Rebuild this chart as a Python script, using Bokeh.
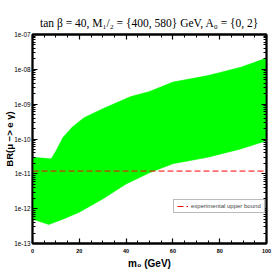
import math
from bokeh.plotting import figure
from bokeh.models import (LinearAxis, LogAxis, Range1d, Legend, LegendItem,
                          SingleIntervalTicker, LogTicker, CustomJSTickFormatter)
from bokeh.embed import file_html
from bokeh.resources import INLINE

# ---- data ----
m0_upper = [0, 8, 10, 13, 17, 22, 30, 42, 50, 60, 75, 89, 100]
br_upper = [3.0e-11, 2.7e-11, 4.5e-11, 1.1e-10, 2.2e-10, 4.1e-10, 7.4e-10,
            1.65e-9, 2.3e-9, 4.3e-9, 6.6e-9, 1.15e-8, 2.1e-8]
m0_lower = [0, 7, 13, 20, 30, 40, 50, 60, 75, 89, 100]
br_lower = [5.0e-13, 3.5e-13, 5.0e-13, 7.9e-13, 1.9e-12, 5.1e-12, 1.07e-11,
            1.95e-11, 3.0e-11, 5.2e-11, 8.9e-11]
exp_bound = 1.2e-11
x_range = (0, 100)
y_range = (1e-13, 1e-7)
legend_text = "experimental upper bound"
title_text = "tan β = 40, M₁/₂ = {400, 580} GeV, A₀ = {0, 2}"
x_label = "m₀ (GeV)"
y_label = "BR(μ −> e γ)"

# frame placement (canvas pixels)
FL, FT, FW, FH = 32, 34, 234, 209
W, H = 273, 273

p = figure(width=W, height=H, output_backend="svg", toolbar_location=None,
           x_range=Range1d(*x_range), y_range=Range1d(*y_range), y_axis_type="log",
           min_border_left=FL, min_border_right=W - FL - FW,
           min_border_top=FT, min_border_bottom=H - FT - FH)
p.title.text = title_text
p.title.text_font = "Liberation Serif"
p.title.text_font_style = "normal"
p.title.text_font_size = "11.5px"
p.title.text_color = "black"
p.title.align = "center"
p.title.standoff = 12
p.grid.visible = False
p.outline_line_color = "black"
p.outline_line_width = 1.8
p.background_fill_color = "white"
p.border_fill_color = "white"

# band
px = list(m0_upper) + list(reversed(m0_lower))
py = list(br_upper) + list(reversed(br_lower))
p.patch(px, py, fill_color="#00ff00", line_color="#00ff00", line_width=0.5)

# experimental bound
r = p.line(list(x_range), [exp_bound, exp_bound], line_color="#ff0000",
           line_dash="6 3", line_width=1)

legend = Legend(items=[LegendItem(label=legend_text, renderers=[r])],
                location=(141, 30), label_text_font_size="6px",
                label_text_font="Liberation Sans", glyph_width=11, glyph_height=6,
                label_height=6, padding=3, spacing=0, margin=0,
                border_line_color="#777777", border_line_width=1,
                label_standoff=3)
p.add_layout(legend)

# axes
fmt = CustomJSTickFormatter(code="""
const e = Math.round(Math.log10(tick));
const a = Math.abs(e);
return '1e' + (e < 0 ? '-' : '+') + (a < 10 ? '0' + a : '' + a);
""")

def style(ax, labels=True):
    ax.axis_line_width = 1.8
    ax.axis_line_color = "black"
    ax.major_tick_in = 5
    ax.major_tick_out = 0
    ax.minor_tick_in = 3
    ax.minor_tick_out = 0
    ax.major_tick_line_width = 1.2
    ax.minor_tick_line_width = 1
    ax.major_tick_line_color = "black"
    ax.minor_tick_line_color = "black"
    ax.major_label_text_color = "black"
    if not labels:
        ax.major_label_text_color = None
        ax.major_label_text_font_size = "1px"
        ax.major_label_standoff = 0

xa = p.xaxis[0]
xa.ticker = SingleIntervalTicker(interval=20, num_minor_ticks=4)
style(xa)
xa.major_label_text_font_size = "5.5px"
xa.major_label_text_font = "Liberation Sans"
xa.major_label_text_font_style = "bold"
xa.major_label_standoff = 5
xa.axis_label = x_label
xa.axis_label_text_font = "Liberation Sans"
xa.axis_label_text_font_style = "bold"
xa.axis_label_text_font_size = "10px"
xa.axis_label_text_color = "black"
xa.axis_label_standoff = 2

ya = p.yaxis[0]
ya.ticker = LogTicker(num_minor_ticks=10)
ya.formatter = fmt
style(ya)
ya.major_label_text_font_size = "6.4px"
ya.major_label_text_font = "Liberation Sans"
ya.major_label_standoff = 2
ya.axis_label = y_label
ya.axis_label_text_font = "Liberation Sans"
ya.axis_label_text_font_style = "bold"
ya.axis_label_text_font_size = "9.5px"
ya.axis_label_text_color = "black"
ya.axis_label_standoff = -4

top = LinearAxis(ticker=SingleIntervalTicker(interval=20, num_minor_ticks=4))
style(top, False)
p.add_layout(top, "above")
right = LogAxis(ticker=LogTicker(num_minor_ticks=10))
style(right, False)
p.add_layout(right, "right")

open("out.html", "w").write(file_html(p, INLINE))
